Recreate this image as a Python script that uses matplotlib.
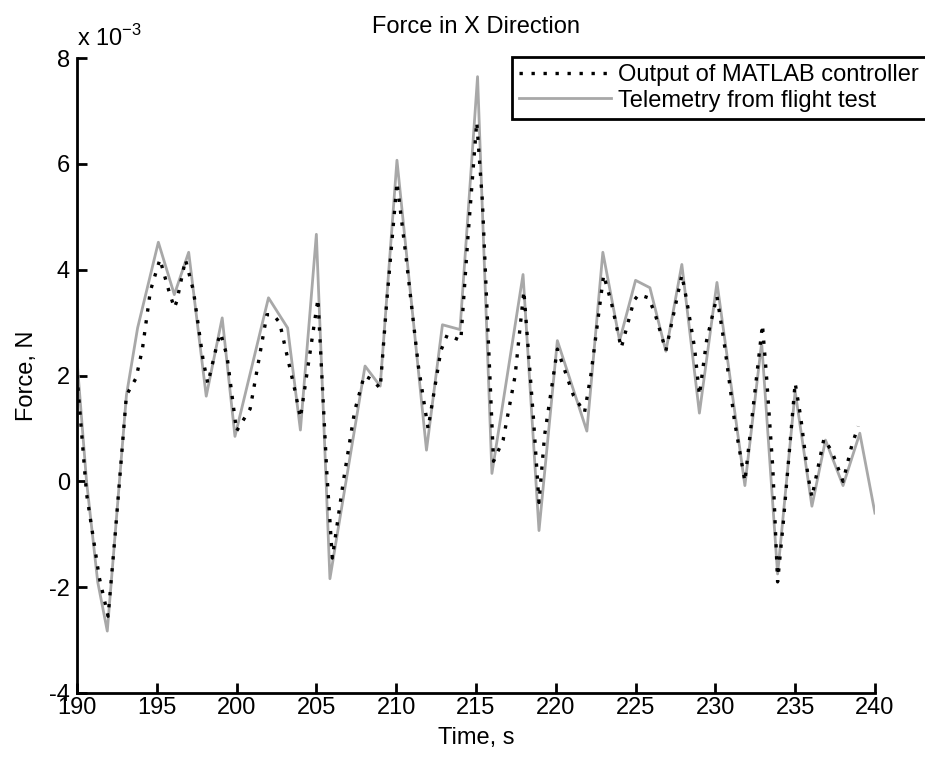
import matplotlib
matplotlib.use('Agg')
import matplotlib.pyplot as plt
from matplotlib import font_manager

# values in units of 1e-3 N
ctrl_time = [190.0, 190.6, 191.4, 191.95, 192.4, 193.1, 193.7, 194.1, 194.6, 195.2,
             195.7, 196.1, 196.25, 196.8, 197.3, 197.9, 198.2, 198.8, 199.0, 199.4,
             200.0, 200.85, 201.9, 202.3, 202.7, 203.65, 204.0, 205.1, 205.65, 206.0,
             206.7, 207.4, 208.0, 208.5, 209.0, 209.4, 210.05, 210.6, 211.4, 212.0,
             212.8, 213.2, 214.05, 214.5, 215.05, 215.4, 216.1, 216.7, 217.45, 218.0,
             218.6, 218.95, 219.3, 220.1, 221.1, 221.8, 222.2, 223.0, 223.5, 224.1,
             224.9, 225.2, 225.8, 226.2, 226.9, 227.9, 228.2, 228.7, 229.0, 229.45,
             230.1, 230.6, 231.2, 231.85, 232.35, 232.95, 233.2, 233.6, 233.9, 234.25,
             235.0, 235.35, 235.8, 236.05, 236.8, 237.3, 238.0, 238.55, 238.95]
ctrl_force = [2.0, -0.23, -1.82, -2.55, -0.99, 1.63, 1.95, 2.5, 3.6, 4.2,
              3.66, 3.28, 3.4, 4.19, 3.6, 2.3, 1.85, 2.62, 2.8, 2.37,
              0.95, 1.37, 3.15, 3.15, 3.0, 1.73, 1.2, 3.45, 0.19, -1.45,
              0.02, 1.33, 2.0, 1.92, 1.76, 3.36, 5.65, 4.29, 2.16, 1.0,
              2.47, 2.77, 2.66, 4.63, 6.79, 5.31, 0.38, 0.78, 1.99, 3.6,
              1.2, -0.4, 0.87, 2.5, 1.63, 1.3, 2.01, 3.9, 3.36, 2.52,
              3.42, 3.53, 3.47, 3.19, 2.47, 3.9, 3.43, 2.52, 1.63, 2.66,
              3.5, 2.52, 1.14, 0.0, 1.35, 2.96, 2.01, 0.25, -1.9, -0.8,
              1.86, 1.21, 0.11, -0.3, 0.8, 0.57, 0.0, 0.68, 1.04]

tele_time = [190.0, 190.6, 191.3, 191.9, 193.1, 193.8, 195.1, 196.1, 197.0, 198.1,
             199.1, 199.9, 202.0, 203.2, 204.0, 205.0, 205.85, 208.05, 209.0, 210.05,
             211.9, 212.9, 214.0, 215.1, 216.0, 217.95, 218.95, 220.1, 221.95, 222.95,
             224.0, 225.0, 225.9, 226.9, 227.9, 229.0, 230.1, 231.85, 232.9, 233.9,
             235.0, 236.05, 236.9, 238.0, 239.05, 240.0]
tele_force = [2.3, 0.0, -1.9, -2.83, 1.63, 2.9, 4.52, 3.53, 4.33, 1.61,
              3.09, 0.85, 3.47, 2.9, 0.97, 4.67, -1.84, 2.18, 1.8, 6.07,
              0.59, 2.96, 2.87, 7.65, 0.15, 3.91, -0.93, 2.66, 0.95, 4.33,
              2.66, 3.8, 3.66, 2.46, 4.1, 1.29, 3.76, -0.08, 2.62, -1.75,
              1.7, -0.47, 0.78, -0.08, 0.91, -0.6]

x_ticks = [190, 195, 200, 205, 210, 215, 220, 225, 230, 235, 240]
y_ticks = [-4, -2, 0, 2, 4, 6, 8]

names = {f.name for f in font_manager.fontManager.ttflist}
fams = [f for f in ['Liberation Sans Narrow', 'Liberation Sans', 'DejaVu Sans'] if f in names]
plt.rcParams['font.family'] = fams
plt.rcParams['mathtext.fontset'] = 'custom'
plt.rcParams['mathtext.rm'] = fams[0]
plt.rcParams['axes.unicode_minus'] = False
fs = 17

fig = plt.figure(figsize=(9.25, 7.59), dpi=100)
ax = fig.add_axes([0.0832, 0.087, 0.8627, 0.8364])

ax.plot(ctrl_time, ctrl_force, color='black', linestyle=(0, (1, 2.6)), linewidth=2.4,
        label='Output of MATLAB controller', zorder=3)
ax.plot(tele_time, tele_force, color='#a8a8a8', linewidth=2.0,
        label='Telemetry from flight test', zorder=2)

ax.set_xlim(190, 240)
ax.set_ylim(-4, 8)
ax.set_xticks(x_ticks)
ax.set_yticks(y_ticks)
ax.tick_params(direction='in', length=7, width=2, labelsize=fs)
ax.tick_params(axis='x', pad=3)
ax.tick_params(axis='y', pad=5)
for s in ['top', 'right']:
    ax.spines[s].set_visible(False)
for s in ['left', 'bottom']:
    ax.spines[s].set_linewidth(2)

ax.set_title('Force in X Direction', fontsize=fs, pad=18)
ax.set_xlabel('Time, s', fontsize=fs, labelpad=6)
ax.set_ylabel('Force, N', fontsize=fs, labelpad=8)
ax.text(0.0, 1.012, r'x 10$^{-3}$', transform=ax.transAxes, fontsize=fs,
        ha='left', va='bottom')

leg = fig.legend(loc='upper left', bbox_to_anchor=(512 / 925, 1 - 57 / 759),
                 fontsize=17, handlelength=3.9, handletextpad=0.3,
                 borderpad=0.3, labelspacing=0.15, fancybox=False,
                 framealpha=1, borderaxespad=0)
leg.get_frame().set_edgecolor('black')
leg.get_frame().set_linewidth(2)

fig.savefig('out.png', dpi=100)
